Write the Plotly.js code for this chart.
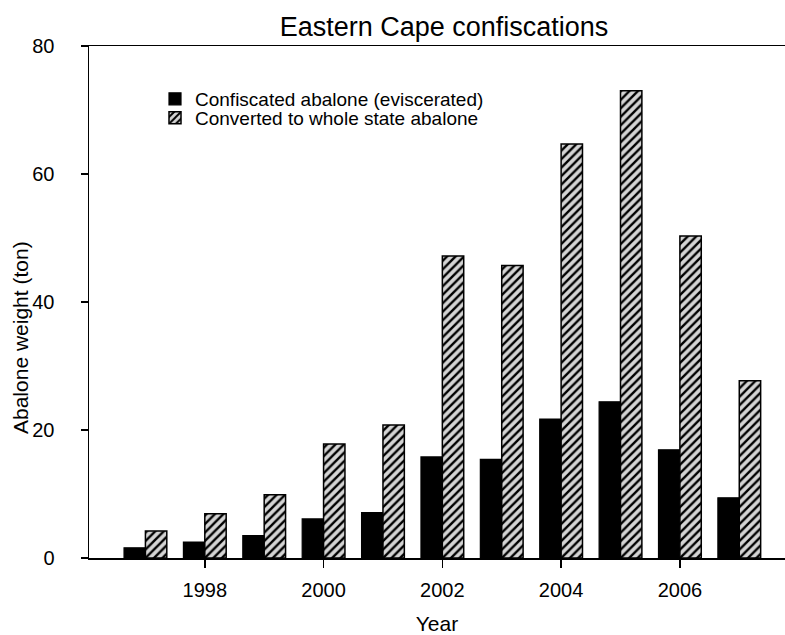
<!DOCTYPE html>
<html>
<head>
<meta charset="utf-8">
<script src="https://cdn.plot.ly/plotly-3.0.1.min.js"></script>
<style>html,body{margin:0;padding:0;background:#fff;}#chart{width:785px;height:635px;}</style>
</head>
<body>
<div id="chart"></div>
<script>
const years = [1997, 1998, 1999, 2000, 2001, 2002, 2003, 2004, 2005, 2006, 2007];
const eviscerated = [1.6, 2.5, 3.5, 6.1, 7.1, 15.8, 15.4, 21.7, 24.4, 16.9, 9.4];
const wholeState = [4.2, 6.9, 9.9, 17.8, 20.8, 47.2, 45.7, 64.7, 73.0, 50.3, 27.7];
const seriesNames = ["Confiscated abalone (eviscerated)", "Converted to whole state abalone"];
const xTicks = [1998, 2000, 2002, 2004, 2006];
const yTicks = [0, 20, 40, 60, 80];

const FONT = "Liberation Sans, Arial, sans-serif";

const traces = [
  {
    type: "bar", x: years, y: eviscerated, name: seriesNames[0], legend: "legend",
    marker: { color: "#000000", line: { color: "#000000", width: 1.2 } }
  },
  {
    type: "bar", x: years, y: wholeState, name: seriesNames[1], legend: "legend2",
    marker: {
      color: "#d4d4d4",
      line: { color: "#000000", width: 1.5 },
      pattern: { shape: "/", fgcolor: "#000000", bgcolor: "#d4d4d4", size: 6, solidity: 0.4 }
    }
  }
];

const legendCommon = {
  xanchor: "left", yanchor: "middle",
  bgcolor: "rgba(0,0,0,0)", font: { family: FONT, size: 19, color: "#000" },
  itemwidth: 30
};

const layout = {
  width: 785, height: 635,
  margin: { l: 89, r: 0, t: 46, b: 77 },
  paper_bgcolor: "#ffffff", plot_bgcolor: "#ffffff",
  font: { family: FONT, color: "#000000", size: 20 },
  title: {
    text: "Eastern Cape confiscations",
    font: { family: FONT, size: 27, color: "#000000" },
    xref: "container", yref: "container",
    x: 444 / 785, xanchor: "center",
    y: 1 - 27 / 635, yanchor: "middle"
  },
  barmode: "group", bargap: 0.28, bargroupgap: 0,
  showlegend: true,
  legend: Object.assign({ x: (155 - 89) / 696, y: (558 - 99) / 512 }, legendCommon),
  legend2: Object.assign({ x: (155 - 89) / 696, y: (558 - 118) / 512 }, legendCommon),
  xaxis: {
    range: [1996.05, 2007.77],
    tickvals: xTicks, ticktext: xTicks.map(String),
    ticks: "outside", ticklen: 8, tickwidth: 1.5, tickcolor: "#000",
    ticklabelstandoff: 5,
    showline: true, linecolor: "#000", linewidth: 1.5, mirror: true,
    showgrid: false, zeroline: false,
    tickfont: { family: FONT, size: 20 },
    title: { text: "Year", font: { family: FONT, size: 21 }, standoff: 24 }
  },
  yaxis: {
    range: [0, 80],
    tickvals: yTicks,
    ticks: "outside", ticklen: 7, tickwidth: 1.5, tickcolor: "#000",
    ticklabelstandoff: 22,
    showline: true, linecolor: "#000", linewidth: 1.5, mirror: false,
    showgrid: false, zeroline: false,
    tickfont: { family: FONT, size: 20 }
  },
  annotations: [{
    text: "Abalone weight (ton)", textangle: -90, showarrow: false,
    xref: "paper", yref: "paper",
    x: (20 - 89) / 696, y: (558 - 338) / 512,
    xanchor: "center", yanchor: "middle",
    font: { family: FONT, size: 21, color: "#000" }
  }]
};

Plotly.newPlot("chart", traces, layout, { staticPlot: true, displayModeBar: false });
</script>
</body>
</html>
